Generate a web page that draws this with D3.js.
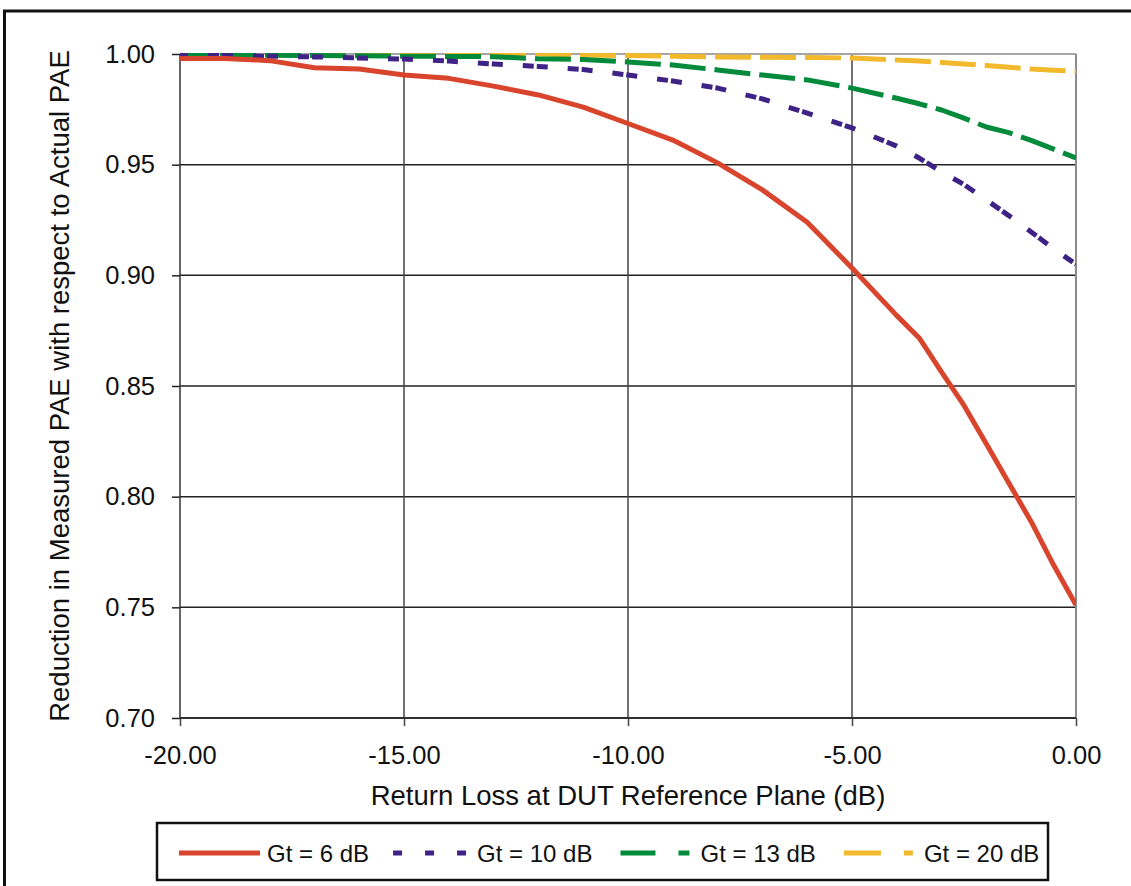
<!DOCTYPE html>
<html>
<head>
<meta charset="utf-8">
<script src="https://cdn.jsdelivr.net/npm/d3@7"></script>
<style>
  html, body { margin: 0; padding: 0; background: #fff; }
  svg { display: block; font-family: "Liberation Sans", Arial, sans-serif; }
</style>
</head>
<body>
<svg id="chart" width="1131" height="886"></svg>
<script>
// return loss values (dB) shared by every series
const returnLoss = [-20, -19, -18, -17, -16, -15, -14, -13, -12, -11, -10, -9, -8, -7, -6, -5, -4, -3.5, -3, -2.5, -2, -1.5, -1, -0.5, 0];

// reduction ratio for each transducer gain
const gt6  = [0.998, 0.998, 0.997, 0.9938, 0.9932, 0.9905, 0.989, 0.9855, 0.9815, 0.976, 0.9686, 0.9611, 0.9508, 0.9386, 0.924, 0.9033, 0.8818, 0.8717, 0.8563, 0.8412, 0.8238, 0.8062, 0.7887, 0.7691, 0.751];
const gt10 = [0.9995, 0.9993, 0.999, 0.9987, 0.9982, 0.9977, 0.9968, 0.9955, 0.9944, 0.993, 0.9905, 0.9878, 0.9846, 0.9797, 0.9733, 0.9666, 0.9584, 0.953, 0.9467, 0.941, 0.934, 0.927, 0.9196, 0.912, 0.905];
const gt13 = [0.9995, 0.9995, 0.9994, 0.9993, 0.9992, 0.999, 0.9989, 0.9988, 0.9978, 0.9975, 0.9964, 0.995, 0.9928, 0.9905, 0.9883, 0.9846, 0.980, 0.9775, 0.9747, 0.971, 0.967, 0.9645, 0.961, 0.957, 0.953];
const gt20 = [1.0, 1.0, 1.0, 1.0, 1.0, 1.0, 1.0, 1.0, 1.0, 0.9995, 0.9993, 0.999, 0.9987, 0.9985, 0.9984, 0.9982, 0.9973, 0.9968, 0.9962, 0.9955, 0.9948, 0.994, 0.9932, 0.9927, 0.9922];

const seriesNames = ['Gt = 6 dB', 'Gt = 10 dB', 'Gt = 13 dB', 'Gt = 20 dB'];
const xTicks = [-20, -15, -10, -5, 0];
const yTicks = [0.70, 0.75, 0.80, 0.85, 0.90, 0.95, 1.00];

// styles per series: colour, dash in plot, dash in legend
const styles = [
  { color: '#d8442c', dash: null,            offset: 0,  legendDash: null,    legendStart: 0 },
  { color: '#3f2285', dash: '11,3,11,20',    offset: 17, legendDash: '9,23',  legendStart: 8 },
  { color: '#038a3b', dash: '36,9',          offset: 5,  legendDash: '35,23', legendStart: 12 },
  { color: '#f1b92b', dash: '36,9',          offset: 5,  legendDash: '37,23', legendStart: 12 }
];

const plot = { left: 180, right: 1076, top: 54, bottom: 718 };

const svg = d3.select('#chart');

// outer frame
svg.append('rect')
  .attr('x', 4.5).attr('y', 11)
  .attr('width', 1140).attr('height', 900)
  .attr('fill', 'none')
  .attr('stroke', '#111')
  .attr('stroke-width', 3);

const x = d3.scaleLinear().domain([-20, 0]).range([plot.left, plot.right]);
const y = d3.scaleLinear().domain([0.70, 1.00]).range([plot.bottom, plot.top]);

// horizontal gridlines + y axis
const yAxis = svg.append('g')
  .attr('transform', `translate(${plot.left},0)`)
  .call(d3.axisLeft(y).tickValues(yTicks).tickFormat(d => d.toFixed(2)).tickSize(8).tickPadding(17));
yAxis.select('.domain').remove();
yAxis.selectAll('.tick line').attr('stroke', '#222').attr('stroke-width', 1.5);
yAxis.selectAll('.tick text').attr('font-size', 25.5).attr('fill', '#111')
  .attr('font-family', '"Liberation Sans", Arial, sans-serif');

svg.append('g')
  .selectAll('line')
  .data(yTicks.filter(d => d < 1))
  .enter()
  .append('line')
    .attr('x1', plot.left).attr('x2', plot.right)
    .attr('y1', d => y(d)).attr('y2', d => y(d))
    .attr('stroke', '#222')
    .attr('stroke-width', 1.5);

// x axis with ticks
const xAxis = svg.append('g')
  .attr('transform', `translate(0,${plot.bottom})`)
  .call(d3.axisBottom(x).tickValues(xTicks).tickFormat(d => d.toFixed(2)).tickSize(8).tickPadding(20));
xAxis.select('.domain').remove();
xAxis.selectAll('.tick line').attr('stroke', '#444').attr('stroke-width', 1.5);
xAxis.selectAll('.tick text').attr('font-size', 25.5).attr('fill', '#111')
  .attr('font-family', '"Liberation Sans", Arial, sans-serif');

// vertical gridlines
svg.append('g')
  .selectAll('line')
  .data(xTicks.filter(d => d > -20 && d < 0))
  .enter()
  .append('line')
    .attr('x1', d => x(d)).attr('x2', d => x(d))
    .attr('y1', plot.top).attr('y2', plot.bottom)
    .attr('stroke', '#444')
    .attr('stroke-width', 1.5);

// plot border: gray top/right, dark left/bottom
svg.append('line')
  .attr('x1', plot.left).attr('x2', plot.right)
  .attr('y1', plot.top).attr('y2', plot.top)
  .attr('stroke', '#a6a6a6').attr('stroke-width', 2);
svg.append('line')
  .attr('x1', plot.right).attr('x2', plot.right)
  .attr('y1', plot.top).attr('y2', plot.bottom)
  .attr('stroke', '#8c8c8c').attr('stroke-width', 2);
svg.append('line')
  .attr('x1', plot.left).attr('x2', plot.left)
  .attr('y1', plot.top).attr('y2', plot.bottom)
  .attr('stroke', '#333').attr('stroke-width', 1.5);
svg.append('line')
  .attr('x1', plot.left).attr('x2', plot.right)
  .attr('y1', plot.bottom).attr('y2', plot.bottom)
  .attr('stroke', '#222').attr('stroke-width', 1.5);

// clip lines to plot area
svg.append('clipPath').attr('id', 'plot-clip')
  .append('rect')
    .attr('x', plot.left).attr('y', plot.top - 1)
    .attr('width', plot.right - plot.left).attr('height', plot.bottom - plot.top + 1);

const seriesValues = [gt6, gt10, gt13, gt20];
const line = d3.line()
  .x(d => x(d[0]))
  .y(d => y(d[1]));

const lines = svg.append('g').attr('clip-path', 'url(#plot-clip)');
// draw top series first so lower ones overlay
[3, 2, 1, 0].forEach(i => {
  const pts = returnLoss.map((r, k) => [r, seriesValues[i][k]]);
  lines.append('path')
    .datum(pts)
    .attr('d', line)
    .attr('fill', 'none')
    .attr('stroke', styles[i].color)
    .attr('stroke-width', 5)
    .attr('stroke-linejoin', 'round')
    .attr('stroke-dasharray', styles[i].dash)
    .attr('stroke-dashoffset', styles[i].offset);
});

// axis titles
svg.append('text')
  .attr('x', x(-10))
  .attr('y', 805)
  .attr('text-anchor', 'middle')
  .attr('font-size', 27.5)
  .attr('fill', '#111')
  .text('Return Loss at DUT Reference Plane (dB)');

svg.append('text')
  .attr('transform', `translate(69, ${(plot.top + plot.bottom) / 2}) rotate(-90)`)
  .attr('text-anchor', 'middle')
  .attr('font-size', 27.5)
  .attr('fill', '#111')
  .text('Reduction in Measured PAE with respect to Actual PAE');

// legend
const legend = svg.append('g').attr('id', 'legend');
legend.append('rect')
  .attr('x', 157).attr('y', 823)
  .attr('width', 891).attr('height', 57)
  .attr('fill', '#fff')
  .attr('stroke', '#111')
  .attr('stroke-width', 2.5);

const sampleLen = 81;
let cursor = 179;
seriesNames.forEach((name, i) => {
  const g = legend.append('g');
  g.append('line')
    .attr('x1', cursor + styles[i].legendStart).attr('x2', cursor + sampleLen)
    .attr('y1', 853).attr('y2', 853)
    .attr('stroke', styles[i].color)
    .attr('stroke-width', 5)
    .attr('stroke-dasharray', styles[i].legendDash);
  const t = g.append('text')
    .attr('x', cursor + sampleLen + (i === 0 ? 7 : 11))
    .attr('y', 862)
    .attr('font-size', 24)
    .attr('fill', '#111')
    .text(name);
  const w = t.node().getComputedTextLength();
  cursor = cursor + sampleLen + (i === 0 ? 7 : 11) + w + 16;
});
</script>
</body>
</html>
